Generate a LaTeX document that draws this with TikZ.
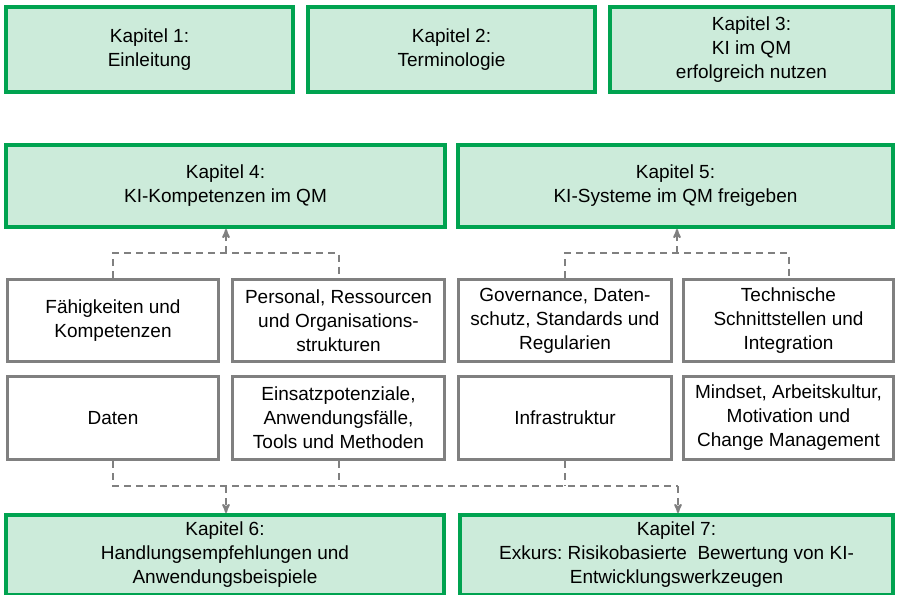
\documentclass[tikz,border=0pt]{standalone}
\usepackage{fontspec}
\setmainfont{Liberation Sans}
\usetikzlibrary{arrows}
\frenchspacing

\definecolor{kapgreen}{RGB}{0,163,80}
\definecolor{kapfill}{RGB}{204,235,218}
\definecolor{themagray}{RGB}{128,128,128}

\begin{document}
\begin{tikzpicture}[x=1pt, y=-1pt,
  kapitel/.style={draw=kapgreen, fill=kapfill, line width=4pt, align=center,
    inner sep=0pt, font=\fontsize{19}{24}\selectfont},
  thema/.style={draw=themagray, fill=white, line width=3pt, align=center,
    inner sep=0pt, minimum height=83pt, font=\fontsize{19}{24}\selectfont},
  link/.style={themagray, line width=2pt, dash pattern=on 7pt off 5pt},
  >=stealth']
\useasboundingbox (0,0) rectangle (898,595);

% Kapitel 1 bis 3
\node[kapitel, minimum width=287pt, minimum height=85pt] (kap1) at (149.5,49.5) {Kapitel 1:\\Einleitung};
\node[kapitel, minimum width=287pt, minimum height=85pt] (kap2) at (451.5,49.5) {Kapitel 2:\\Terminologie};
\node[kapitel, minimum width=283pt, minimum height=85pt] (kap3) at (751.5,49.5) {Kapitel 3:\\KI im QM\\erfolgreich nutzen};

% Kapitel 4 und 5
\node[kapitel, minimum width=439pt, minimum height=82pt] (kap4) at (225.5,186) {Kapitel 4:\\KI-Kompetenzen im QM};
\node[kapitel, minimum width=435pt, minimum height=82pt] (kap5) at (675.5,186) {Kapitel 5:\\KI-Systeme im QM freigeben};

% Themenfelder
\node[thema, minimum width=211pt, minimum height=82pt] (faehig) at (113,320.5) {F\"ahigkeiten und\\Kompetenzen};
\node[thema, minimum width=212pt, minimum height=82pt] (personal) at (338.5,320.5) {Personal, Ressourcen\\und Organisations-\\strukturen};
\node[thema, minimum width=213pt, minimum height=82pt] (governance) at (565,320.5) {Governance, Daten-\\schutz, Standards und\\Regularien};
\node[thema, minimum width=210pt, minimum height=82pt] (technik) at (788.5,320.5) {Technische\\Schnittstellen und\\Integration};
\node[thema, minimum width=211pt] (daten) at (113,418) {Daten};
\node[thema, minimum width=212pt] (einsatz) at (338.5,418) {Einsatzpotenziale,\\Anwendungsf\"alle,\\Tools und Methoden};
\node[thema, minimum width=213pt] (infra) at (565,418) {Infrastruktur};
\node[thema, minimum width=210pt] (mindset) at (788.5,418) {Mindset, Arbeitskultur,\\Motivation und\\Change Management};

% Kapitel 6 und 7
\node[kapitel, minimum width=438pt, minimum height=80pt] (kap6) at (225,555) {Kapitel 6:\\Handlungsempfehlungen und\\Anwendungsbeispiele};
\node[kapitel, minimum width=433pt, minimum height=80pt] (kap7) at (676.5,555) {Kapitel 7:\\Exkurs: Risikobasierte\ \ Bewertung von KI-\\Entwicklungswerkzeugen};

% Verbindungen
\coordinate (bus4) at (226,253);
\coordinate (bus5) at (677,253);
\coordinate (bus6) at (226,486);
\coordinate (bus7) at (678,486);

\draw[link] (faehig.north) |- (bus4) -| (personal.north);
\draw[link,->] (bus4) -- (bus4 |- kap4.south);
\draw[link] (governance.north) |- (bus5) -| (technik.north);
\draw[link,->] (bus5) -- (bus5 |- kap5.south);

\draw[link] (daten.south) |- (bus7);
\foreach \n in {einsatz, infra} {
  \draw[link] (\n.south) -- (\n.south |- bus7);
}
\draw[link,->] (bus6) -- (bus6 |- kap6.north);
\draw[link,->] (bus7) -- (bus7 |- kap7.north);
\end{tikzpicture}
\end{document}
